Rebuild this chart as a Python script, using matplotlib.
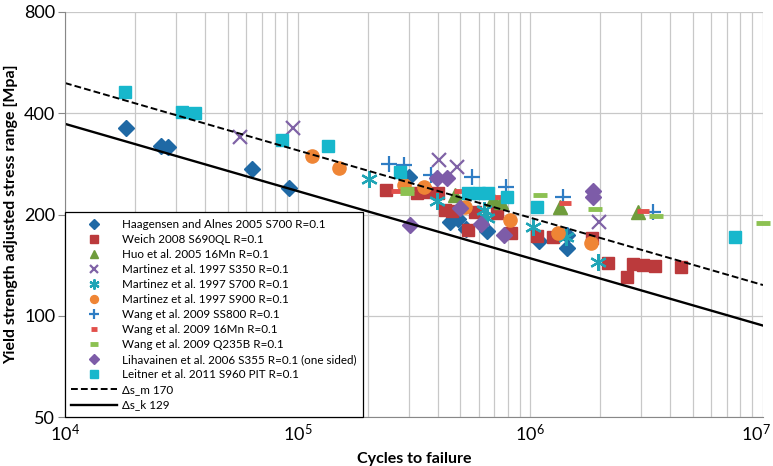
import matplotlib
matplotlib.use("Agg")
import matplotlib.pyplot as plt
import matplotlib.transforms as mtransforms
from matplotlib.ticker import FixedLocator, NullFormatter, NullLocator, FixedFormatter

plt.rcParams['font.family'] = ['Lato', 'DejaVu Sans']
plt.rcParams['mathtext.fontset'] = 'custom'
plt.rcParams['mathtext.rm'] = 'Lato'
plt.rcParams['mathtext.it'] = 'Lato'

# ---- data (cycles, stress range MPa) ----
haag_N = [1.83e4, 2.59e4, 2.77e4, 6.36e4, 9.18e4, 3.01e5, 4.51e5, 4.89e5, 5.29e5, 6.51e5, 1.09e6, 1.44e6, 1.44e6]
haag_S = [362, 320, 318, 273, 240, 259, 190, 194, 181, 179, 167, 159, 174]

weich_N = [2.40e5, 3.26e5, 3.52e5, 4.01e5, 4.30e5, 4.60e5, 5.39e5, 5.78e5, 7.19e5, 8.26e5, 1.07e6, 1.25e6, 1.84e6, 2.16e6, 2.60e6, 2.76e6, 3.05e6, 3.43e6, 4.44e6]
weich_S = [236, 232, 233, 232, 206, 205, 180, 203, 202, 176, 173, 171, 170, 143.5, 130, 142.5, 141.5, 140.5, 139.5]

huo_N = [4.74e5, 6.91e5, 7.48e5, 1.34e6, 2.90e6]
huo_S = [228, 222, 218, 210, 203]

m350_N = [5.65e4, 9.55e4, 4.05e5, 4.84e5, 1.97e6]
m350_S = [340, 361, 290, 277, 190]

m700_N = [2.03e5, 3.97e5, 6.30e5, 6.50e5, 1.03e6, 1.42e6, 1.95e6]
m700_S = [255, 220, 206, 195, 184, 171.5, 144.5]

m900_N = [1.15e5, 1.50e5, 2.86e5, 3.49e5, 5.24e5, 8.18e5, 1.31e6, 1.82e6]
m900_S = [298, 275, 245, 241, 210, 192.5, 176, 164.5]

ss800_N = [2.47e5, 2.86e5, 3.74e5, 5.61e5, 7.86e5, 1.38e6, 3.37e6]
ss800_S = [283, 281, 262, 258, 241, 225, 203.5]

w16_N = [2.67e5, 4.98e5, 7.19e5, 1.41e6, 3.05e6]
w16_S = [235, 235, 225, 216, 205]

q235_N = [2.95e5, 2.95e5, 1.10e6, 1.90e6, 3.47e6, 1.0e7]
q235_S = [238, 232, 228.5, 207.5, 198, 188.5]

liha_N = [3.04e5, 3.97e5, 4.38e5, 4.98e5, 6.13e5, 7.70e5, 1.86e6, 1.86e6]
liha_S = [186, 257, 257, 209, 187, 174, 235, 225]

leit_N = [1.81e4, 3.18e4, 3.62e4, 8.56e4, 1.35e5, 2.75e5, 5.39e5, 6.0e5, 6.6e5, 7.93e5, 1.07e6, 7.57e6]
leit_S = [463, 403, 401, 333, 320, 268, 232, 232, 232, 225, 210.5, 171.5]

line_N = [1e4, 1e7]
dsm_S = [492, 123.4]
dsk_S = [372, 93.5]

x_ticks = [1e4, 1e5, 1e6, 1e7]
x_labels = ['$10^{4}$', '$10^{5}$', '$10^{6}$', '$10^{7}$']
y_ticks = [50, 100, 200, 400, 800]
y_labels = ['50', '100', '200', '400', '800']

fig = plt.figure(figsize=(7.73, 4.66), dpi=100)
ax = fig.add_axes([65/773, 49/466, 698/773, 405/466])
ax.set_xscale('log')
ax.set_yscale('log')
ax.set_xlim(1e4, 1e7)
ax.set_ylim(50, 800)

grid_c = '#c8c8c8'
ax.xaxis.set_major_locator(FixedLocator(x_ticks))
ax.xaxis.set_major_formatter(FixedFormatter(x_labels))
minors = [m * 10**e for e in range(4, 7) for m in range(2, 10)]
ax.xaxis.set_minor_locator(FixedLocator(minors))
ax.xaxis.set_minor_formatter(NullFormatter())
ax.yaxis.set_major_locator(FixedLocator(y_ticks))
ax.yaxis.set_major_formatter(FixedFormatter(y_labels))
ax.yaxis.set_minor_locator(NullLocator())
ax.grid(True, which='major', color=grid_c, lw=0.9)
ax.grid(True, which='minor', axis='x', color=grid_c, lw=0.9)
ax.tick_params(axis='x', which='both', length=0, labelsize=13, pad=4)
ax.tick_params(axis='y', which='major', length=5, color='#888888', labelsize=13, pad=2)
for s in ['top', 'right']:
    ax.spines[s].set_visible(False)
for s in ['left', 'bottom']:
    ax.spines[s].set_color('#888888')
ax.set_axisbelow(True)

kw = dict(ls='none', clip_on=False)
ax.plot(haag_N, haag_S, marker='D', ms=8.5, color='#1f69a5', label='Haagensen and Alnes 2005 S700 R=0.1', **kw)
ax.plot(weich_N, weich_S, marker='s', ms=8.5, color='#bb3a3c', label='Weich 2008 S690QL R=0.1', **kw)
ax.plot(huo_N, huo_S, marker='^', ms=10, color='#6f9c3c', label='Huo et al. 2005 16Mn R=0.1', **kw)
ax.plot(m350_N, m350_S, marker='x', ms=10, mew=1.6, color='#7f62a6', label='Martinez et al. 1997 S350 R=0.1', **kw)
ax.plot(m700_N, m700_S, marker=(6, 2, 0), ms=12, mew=1.6, color='#20a5b6', label='Martinez et al. 1997 S700 R=0.1', **kw)
ax.plot(m900_N, m900_S, marker='o', ms=9.5, color='#ef8535', label='Martinez et al. 1997 S900 R=0.1', **kw)
ax.plot(ss800_N, ss800_S, marker='+', ms=11, mew=1.6, color='#2f7dc4', label='Wang et al. 2009 SS800 R=0.1', **kw)
ax.plot(w16_N, w16_S, marker='_', ms=8, mew=3.5, color='#e2504b', label='Wang et al. 2009 16Mn R=0.1', **kw)
ax.plot(q235_N, q235_S, marker='_', ms=10, mew=3.5, color='#8cc152', label='Wang et al. 2009 Q235B R=0.1', **kw)
ax.plot(liha_N, liha_S, marker='D', ms=8.5, color='#7d5ca8', label='Lihavainen et al. 2006 S355 R=0.1 (one sided)', **kw)
ax.plot(leit_N, leit_S, marker='s', ms=9, color='#17b7cc', label='Leitner et al. 2011 S960 PIT R=0.1', **kw)
ax.plot(line_N, dsm_S, color='black', lw=1.4, ls=(0, (3.5, 1.6)), label='Δs_m 170')
ax.plot(line_N, dsk_S, color='black', lw=1.7, ls='-', label='Δs_k 129')

leg = ax.legend(loc='lower left', bbox_to_anchor=(0, 0), borderaxespad=0, fontsize=8.4,
                markerscale=0.6, handlelength=3.9, handletextpad=0.45, labelspacing=0.35,
                fancybox=False, framealpha=1, edgecolor='black', borderpad=0.55)
leg.get_frame().set_linewidth(0.9)

ax.set_xlabel('Cycles to failure', fontsize=11.5, fontweight='bold', labelpad=6)
ax.set_ylabel('Yield strength adjusted stress range [Mpa]', fontsize=11.5, fontweight='bold', labelpad=4)

# keep the last x tick label inside the figure
fig.canvas.draw()
lbls = ax.get_xticklabels()
lbls[-1].set_transform(lbls[-1].get_transform() +
                       mtransforms.ScaledTranslation(-7/100, 0, fig.dpi_scale_trans))

fig.savefig('out.png', dpi=100)
